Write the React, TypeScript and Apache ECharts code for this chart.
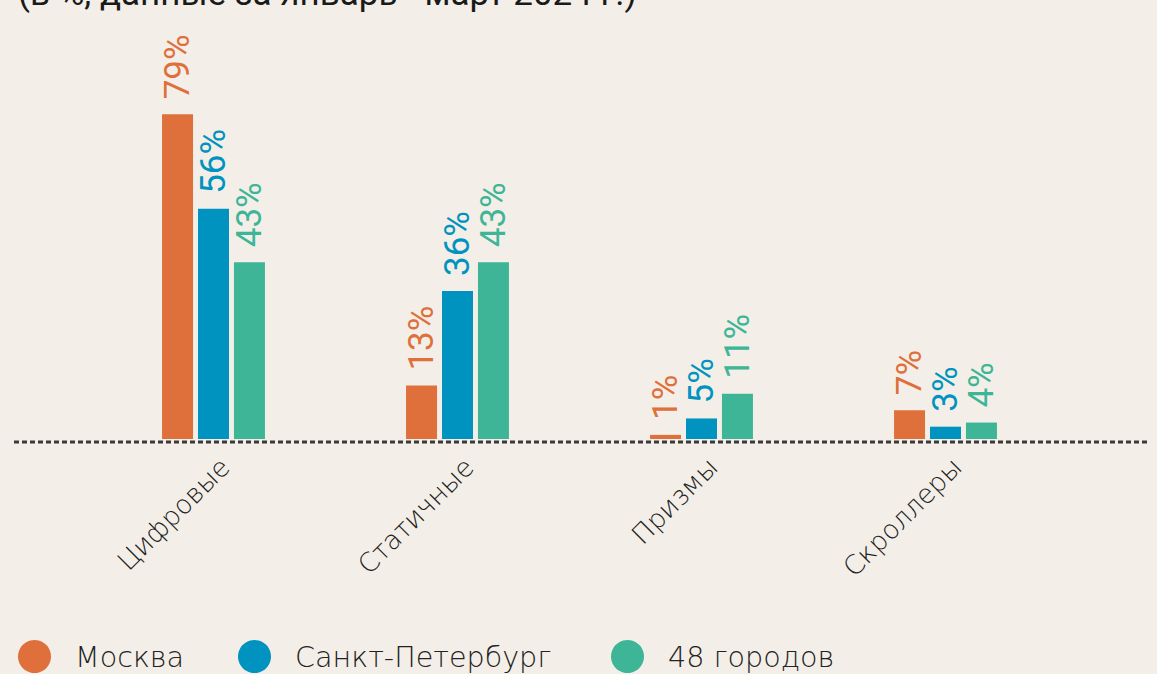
import { useEffect, useRef } from "react";
import * as echarts from "echarts";

const categories = ["Цифровые", "Статичные", "Призмы", "Скроллеры"];
const seriesNames = ["Москва", "Санкт-Петербург", "48 городов"];
const moscow = [79, 13, 1, 7];
const spb = [56, 36, 5, 3];
const cities48 = [43, 43, 11, 4];
const seriesValues = [moscow, spb, cities48];
const colors = ["#DF703B", "#0093BF", "#3DB596"];
const title = "(в %, данные за январь - март 2024 г.)";
const legendLefts = [18, 238, 611];

export default function App() {
  const ref = useRef<HTMLDivElement>(null);
  useEffect(() => {
    document.body.style.margin = "0";
    if (!ref.current) return;
    const chart = echarts.init(ref.current, null, { renderer: "svg" });
    const option: any = {
      animation: false,
      backgroundColor: "#F3EFE8",
      textStyle: { fontFamily: "Roboto" },
      grid: { left: 91.5, right: 89.5, top: 28, bottom: 235 },
      xAxis: {
        type: "category",
        data: categories,
        axisLine: { show: false },
        axisTick: { show: false },
        axisLabel: {
          rotate: 45,
          interval: 0,
          fontSize: 26.5,
          color: "#222",
          fontFamily: "DejaVu Sans",
          fontWeight: 200,
          margin: 12,
          verticalAlign: "top",
          lineHeight: 32,
        },
      },
      yAxis: {
        type: "value",
        min: 0,
        max: 100,
        show: false,
        splitLine: { show: false },
      },
      legend: seriesNames.map((n, i) => ({
        data: [n],
        left: legendLefts[i],
        top: 640,
        icon: "circle",
        itemWidth: 33,
        itemHeight: 33,
        selectedMode: false,
        padding: 0,
        textStyle: {
          fontSize: 28.6,
          color: "#222",
          fontFamily: "DejaVu Sans",
          fontWeight: 200,
          padding: [0, 0, 0, 19],
        },
      })),
      series: seriesNames.map((n, i) => ({
        name: n,
        type: "bar",
        data: seriesValues[i],
        barWidth: 31,
        barGap: "16%",
        itemStyle: { color: colors[i] },
        label: {
          show: true,
          position: "top",
          rotate: 90,
          align: "left",
          verticalAlign: "middle",
          distance: 15,
          formatter: "{c}%",
          fontSize: 35,
          fontFamily: "Roboto",
          color: colors[i],
        },
      })),
      graphic: [
        {
          type: "line",
          shape: { x1: 14, y1: 442, x2: 1148, y2: 442 },
          style: { stroke: "#3a3a3a", lineWidth: 3, lineDash: [5, 3] },
          z: 10,
        },
        {
          type: "text",
          left: 18,
          top: -24,
          style: {
            text: title,
            fontSize: 35,
            fontFamily: "Roboto",
            fill: "#1a1a1a",
          },
        },
      ],
    };
    chart.setOption(option);
    return () => chart.dispose();
  }, []);
  return <div ref={ref} style={{ width: 1157, height: 674 }} />;
}
